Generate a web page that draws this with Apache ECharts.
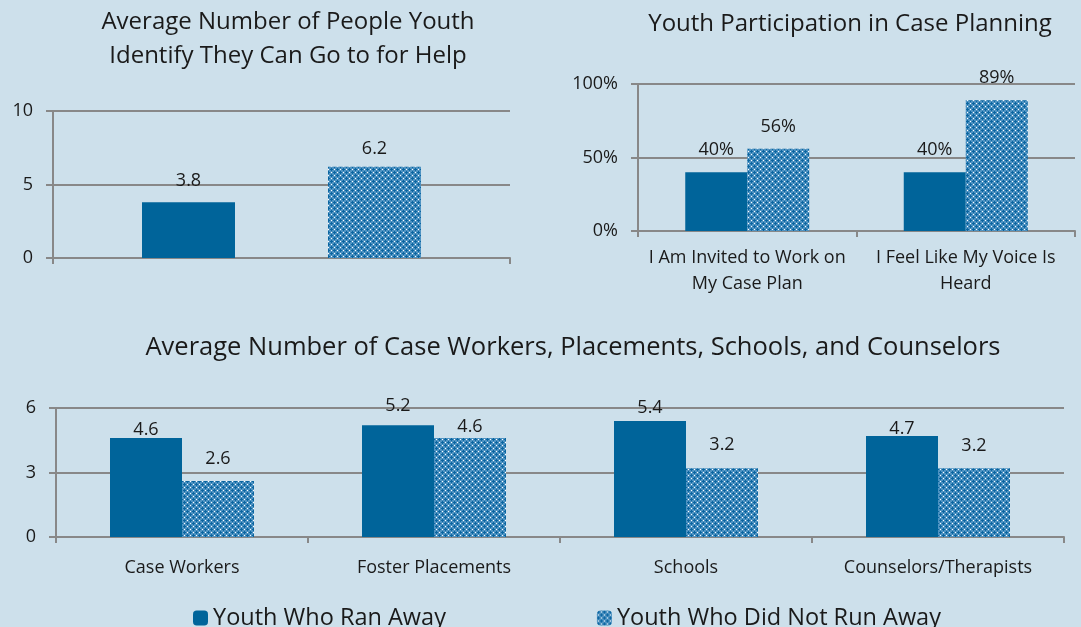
<!DOCTYPE html>
<html>
<head>
<meta charset="utf-8">
<script src="https://cdn.jsdelivr.net/npm/echarts@6/dist/echarts.min.js"></script>
<style>
  html, body { margin: 0; padding: 0; background: #cde0eb; }
  #main { width: 1081px; height: 627px; }
</style>
</head>
<body>
<div id="main"></div>
<script>
// data
var seriesNames = ['Youth Who Ran Away', 'Youth Who Did Not Run Away'];

var helpCategories = [''];
var helpRanAway = [3.8];
var helpNotRan = [6.2];

var planCategories = ['I Am Invited to Work on\nMy Case Plan', 'I Feel Like My Voice Is\nHeard'];
var planRanAway = [40, 40];
var planNotRan = [56, 89];

var countCategories = ['Case Workers', 'Foster Placements', 'Schools', 'Counselors/Therapists'];
var countRanAway = [4.6, 5.2, 5.4, 4.7];
var countNotRan = [2.6, 4.6, 3.2, 3.2];

// vertical nudges of the value labels in the bottom chart (as placed in the original)
var countRanAwayShift = [4, -7, -1, 5];
var countNotRanShift = [-10, 1, -11, -10];

var FONT = 'Open Sans';
var BLUE = '#00649a';
var GRAY = '#888888';
var TEXT = '#1a1a1a';

function makePattern() {
    var c = document.createElement('canvas');
    c.width = 6;
    c.height = 6;
    var ctx = c.getContext('2d');
    ctx.fillStyle = '#4f93c2';
    ctx.fillRect(0, 0, 6, 6);
    ctx.fillStyle = '#0a65a0';
    ctx.fillRect(0, 1, 3, 1);
    ctx.fillRect(1, 0, 1, 3);
    ctx.fillRect(3, 4, 3, 1);
    ctx.fillRect(4, 3, 1, 3);
    ctx.fillStyle = '#ffffff';
    ctx.fillRect(4, 1, 1, 1);
    ctx.fillRect(1, 4, 1, 1);
    return c;
}
var hatch = { image: makePattern(), repeat: 'repeat' };

function shifted(values, shifts) {
    return values.map(function(v, i) {
        return { value: v, label: { offset: [0, shifts[i]] } };
    });
}

function yAxis(idx, max, interval, fmt) {
    return {
        type: 'value', gridIndex: idx, min: 0, max: max, interval: interval,
        axisLine: { show: true, lineStyle: { color: GRAY, width: 2 } },
        axisTick: { show: true, length: 7, lineStyle: { color: GRAY, width: 2 } },
        splitLine: { lineStyle: { color: GRAY, width: 2 } },
        axisLabel: { color: TEXT, fontSize: 18, fontFamily: FONT, margin: 20, formatter: fmt }
    };
}

function xAxis(idx, data, margin) {
    return {
        type: 'category', gridIndex: idx, data: data,
        axisLine: { lineStyle: { color: GRAY, width: 2 } },
        axisTick: { show: true, length: 6, lineStyle: { color: GRAY, width: 2 } },
        axisLabel: { color: TEXT, fontSize: 18, fontFamily: FONT, lineHeight: 26, margin: margin, interval: 0 }
    };
}

function bar(name, idx, data, color, width, gap, dist, fmt) {
    return {
        name: name, type: 'bar', xAxisIndex: idx, yAxisIndex: idx, data: data,
        barWidth: width, barGap: gap,
        itemStyle: { color: color },
        label: { show: true, position: 'top', distance: dist, color: TEXT, fontSize: 18, fontFamily: FONT, formatter: fmt }
    };
}

function title(text, x, y, size) {
    return {
        type: 'text', x: x, y: y,
        style: { text: text, font: size + 'px "' + FONT + '"', fill: TEXT, textAlign: 'center', textVerticalAlign: 'middle' }
    };
}

function chart01() {
    var myChart = echarts.init(document.getElementById('main'));
    var option = {
        backgroundColor: '#cde0eb',
        animation: false,
        textStyle: { fontFamily: FONT },
        graphic: [
            title('Average Number of People Youth', 288, 22, 24),
            title('Identify They Can Go to for Help', 288, 56, 24),
            title('Youth Participation in Case Planning', 850, 24, 24),
            title('Average Number of Case Workers, Placements, Schools, and Counselors', 573, 348, 25.5)
        ],
        legend: {
            data: seriesNames,
            left: 188, top: 601,
            itemWidth: 15, itemHeight: 15, itemGap: 151,
            textStyle: { color: TEXT, fontSize: 23.5, fontFamily: FONT }
        },
        grid: [
            { left: 53, top: 111, width: 457, height: 147 },
            { left: 638, top: 84, width: 437, height: 147 },
            { left: 56, top: 408, width: 1008, height: 129 }
        ],
        xAxis: [
            xAxis(0, helpCategories, 10),
            xAxis(1, planCategories, 14),
            xAxis(2, countCategories, 18)
        ],
        yAxis: [
            yAxis(0, 10, 5),
            yAxis(1, 100, 50, '{value}%'),
            yAxis(2, 6, 3)
        ],
        series: [
            bar(seriesNames[0], 0, helpRanAway, BLUE, 93, '100%', 12),
            bar(seriesNames[1], 0, helpNotRan, hatch, 93, '100%', 9),
            bar(seriesNames[0], 1, planRanAway, BLUE, 62, '0%', 13, '{c}%'),
            bar(seriesNames[1], 1, planNotRan, hatch, 62, '0%', 13, '{c}%'),
            bar(seriesNames[0], 2, shifted(countRanAway, countRanAwayShift), BLUE, 72, '0%', 3),
            bar(seriesNames[1], 2, shifted(countNotRan, countNotRanShift), hatch, 72, '0%', 3)
        ]
    };
    myChart.setOption(option);
}

chart01();
</script>
</body>
</html>
